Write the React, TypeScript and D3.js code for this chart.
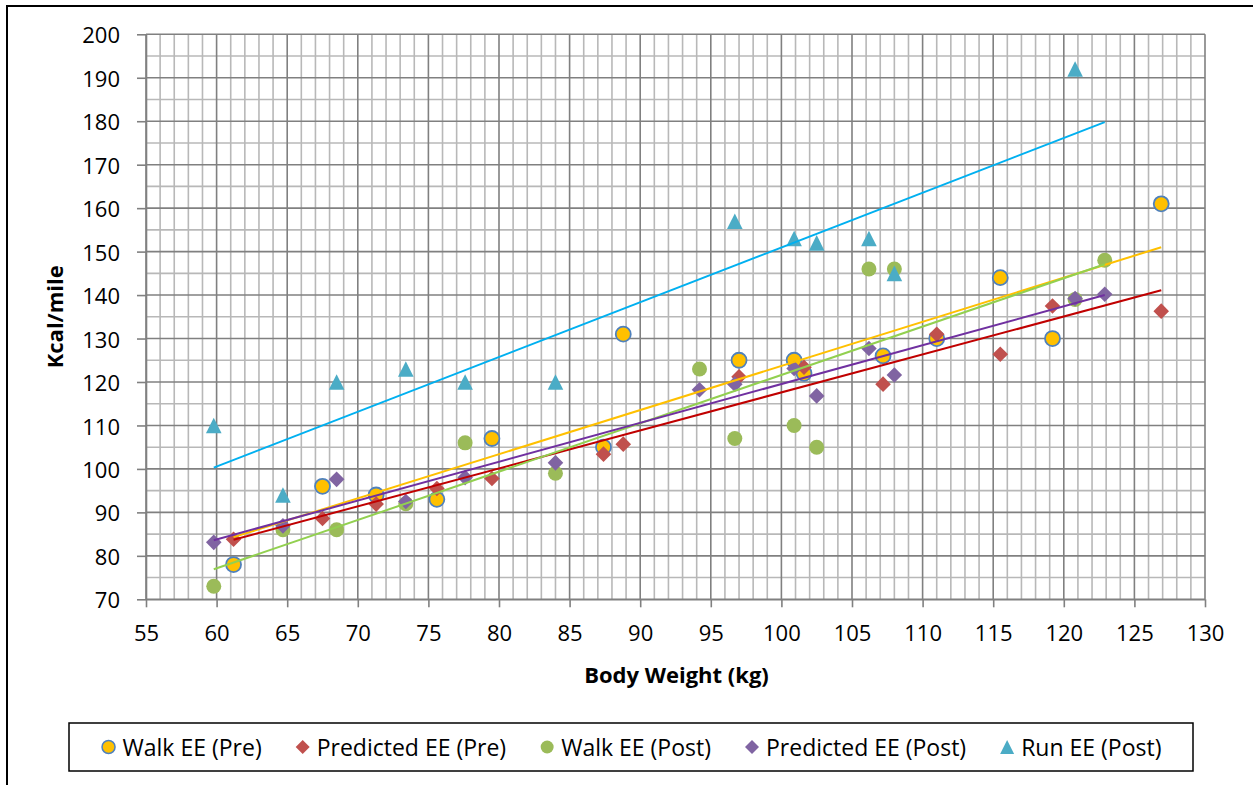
import React, { useEffect, useRef } from 'react';
import * as d3 from 'd3';

// body weight (kg) for the pre and post groups
const preWeight = [61.2, 67.5, 71.3, 75.6, 79.5, 87.4, 88.8, 97.0, 100.9, 101.6, 107.2, 111.0, 115.5, 119.2, 126.9];
const postWeight = [59.8, 64.7, 68.5, 73.4, 77.6, 84.0, 94.2, 96.7, 100.9, 102.5, 106.2, 108.0, 120.8, 122.9];

// Kcal/mile
const walkEEPre = [78, 96, 94, 93, 107, 105, 131, 125, 125, 122, 126, 130, 144, 130, 161];
const predictedEEPre = [83.8, 88.6, 91.9, 95.5, 97.8, 103.4, 105.7, 121.2, null, 123.4, 119.5, 131.0, 126.4, 137.5, 136.3];
const walkEEPost = [73, 86, 86, 92, 106, 99, 123, 107, 110, 105, 146, 146, 139, 148];
const predictedEEPost = [83.1, 86.9, 97.6, 92.5, 98.0, 101.4, 118.2, 119.5, 123.1, 116.8, 127.7, 121.6, 139.2, 140.2];
const runEEPost = [110, 94, 120, 123, 120, 120, null, 157, 153, 152, 153, 145, 192, null];

// linear trendlines: [x0, y0, x1, y1]
const trendWalkPre = [61.2, 84.3, 126.9, 151.0];
const trendPredPre = [61.2, 83.7, 126.9, 141.1];
const trendWalkPost = [59.8, 76.9, 122.9, 147.1];
const trendPredPost = [59.8, 83.6, 122.9, 140.0];
const trendRunPost = [59.8, 100.3, 122.9, 179.8];

const xTicks = d3.range(55, 131, 5);
const yTicks = d3.range(70, 201, 10);

const series = [
  { name: 'Walk EE (Pre)', xs: preWeight, ys: walkEEPre, shape: 'circle', fill: '#FFC000', stroke: '#4F81BD', trend: trendWalkPre, line: '#FFC000' },
  { name: 'Predicted EE (Pre)', xs: preWeight, ys: predictedEEPre, shape: 'diamond', fill: '#C0504D', stroke: 'none', trend: trendPredPre, line: '#C00000' },
  { name: 'Walk EE (Post)', xs: postWeight, ys: walkEEPost, shape: 'circle', fill: '#9BBB59', stroke: 'none', trend: trendWalkPost, line: '#92D050' },
  { name: 'Predicted EE (Post)', xs: postWeight, ys: predictedEEPost, shape: 'diamond', fill: '#8064A2', stroke: 'none', trend: trendPredPost, line: '#7030A0' },
  { name: 'Run EE (Post)', xs: postWeight, ys: runEEPost, shape: 'triangle', fill: '#4BACC6', stroke: 'none', trend: trendRunPost, line: '#00B0F0' },
];

const markerPath = (shape, s) => {
  if (shape === 'diamond') return `M0,${-s}L${s},0L0,${s}L${-s},0Z`;
  if (shape === 'triangle') return `M0,${-s}L${s},${s}L${-s},${s}Z`;
  return d3.arc()({ innerRadius: 0, outerRadius: s, startAngle: 0, endAngle: 2 * Math.PI });
};

const App = () => {
  const svgRef = useRef();

  useEffect(() => {
    const svg = d3.select(svgRef.current);
    svg.selectAll('*').remove();

    const font = "'Open Sans', sans-serif";
    const left = 146, right = 1205, top = 34.3, bottom = 599.3;

    const x = d3.scaleLinear().domain([55, 130]).range([left, right]);
    const y = d3.scaleLinear().domain([70, 200]).range([bottom, top]);

    // chart border (runs off the right/bottom of the picture)
    svg.append('rect')
      .attr('x', 7).attr('y', 6).attr('width', 1300).attr('height', 800)
      .attr('fill', 'white').attr('stroke', 'black').attr('stroke-width', 2);

    const grid = svg.append('g');
    // minor grid
    grid.selectAll('.vminor')
      .data(d3.range(56, 130, 1).filter(d => d % 5 !== 0))
      .enter().append('line')
      .attr('x1', d => x(d)).attr('x2', d => x(d))
      .attr('y1', top).attr('y2', bottom)
      .attr('stroke', '#B8B8B8').attr('stroke-width', 1.6);
    grid.selectAll('.hminor')
      .data(d3.range(75, 200, 10))
      .enter().append('line')
      .attr('x1', left).attr('x2', right)
      .attr('y1', d => y(d)).attr('y2', d => y(d))
      .attr('stroke', '#B8B8B8').attr('stroke-width', 1.6);
    // major grid
    grid.selectAll('.vmajor')
      .data(xTicks)
      .enter().append('line')
      .attr('x1', d => x(d)).attr('x2', d => x(d))
      .attr('y1', top).attr('y2', bottom)
      .attr('stroke', '#808080').attr('stroke-width', 1.6);
    grid.selectAll('.hmajor')
      .data(yTicks)
      .enter().append('line')
      .attr('x1', left).attr('x2', right)
      .attr('y1', d => y(d)).attr('y2', d => y(d))
      .attr('stroke', '#808080').attr('stroke-width', 1.6);

    const styleAxis = (g) => {
      g.select('.domain').attr('stroke', '#808080').attr('stroke-width', 1.6);
      g.selectAll('.tick line').attr('stroke', '#808080').attr('stroke-width', 1.6);
      g.selectAll('.tick text')
        .attr('fill', 'black')
        .style('font-family', font)
        .style('font-size', '22px');
    };

    svg.append('g')
      .attr('transform', `translate(${left},0)`)
      .call(d3.axisLeft(y).tickValues(yTicks).tickSize(9).tickSizeOuter(0).tickPadding(17))
      .call(styleAxis)
      .selectAll('.tick text').attr('dy', '0.39em');

    svg.append('g')
      .attr('transform', `translate(0,${bottom})`)
      .call(d3.axisBottom(x).tickValues(xTicks).tickSize(8).tickSizeOuter(0).tickPadding(18))
      .call(styleAxis);

    // axis titles
    svg.append('text')
      .attr('x', (left + right) / 2 + 1).attr('y', 683)
      .attr('text-anchor', 'middle')
      .style('font-family', font).style('font-size', '22px').style('font-weight', 'bold')
      .text('Body Weight (kg)');

    svg.append('text')
      .attr('transform', `translate(63,${(top + bottom) / 2}) rotate(-90)`)
      .attr('text-anchor', 'middle')
      .style('font-family', font).style('font-size', '22px').style('font-weight', 'bold')
      .text('Kcal/mile');

    // markers
    series.forEach(s => {
      const pts = s.xs.map((xv, i) => ({ x: xv, y: s.ys[i] })).filter(d => d.y != null);
      svg.append('g').selectAll('path')
        .data(pts)
        .enter().append('path')
        .attr('d', markerPath(s.shape, s.shape === 'circle' ? 7.5 : 7.8))
        .attr('transform', d => `translate(${x(d.x)},${y(d.y)})`)
        .attr('fill', s.fill)
        .attr('stroke', s.stroke)
        .attr('stroke-width', 1.8);
    });

    // trendlines
    series.forEach(s => {
      svg.append('line')
        .attr('x1', x(s.trend[0])).attr('y1', y(s.trend[1]))
        .attr('x2', x(s.trend[2])).attr('y2', y(s.trend[3]))
        .attr('stroke', s.line).attr('stroke-width', 2);
    });

    // legend
    const lgTop = 723, lgH = 48, lgLeft = 69, lgRight = 1193;
    svg.append('rect')
      .attr('x', lgLeft).attr('y', lgTop).attr('width', lgRight - lgLeft).attr('height', lgH)
      .attr('fill', 'white').attr('stroke', 'black').attr('stroke-width', 1.5);

    const lg = svg.append('g');
    const cy = lgTop + lgH / 2;
    let cursor = 0;
    series.forEach((s) => {
      const item = lg.append('g').attr('transform', `translate(${cursor},0)`);
      item.append('path')
        .attr('d', markerPath(s.shape, s.shape === 'circle' ? 6.5 : 7))
        .attr('transform', `translate(0,${cy})`)
        .attr('fill', s.fill).attr('stroke', s.stroke).attr('stroke-width', 1.5);
      const t = item.append('text')
        .attr('x', 14).attr('y', cy + 8.5)
        .style('font-family', font).style('font-size', '23px')
        .text(s.name);
      const w = t.node().getComputedTextLength();
      cursor += 14 + w + 41;
    });
    const total = cursor - 41;
    lg.attr('transform', `translate(${(lgLeft + lgRight) / 2 - total / 2 + 4},0)`);
  }, []);

  return (
    <svg
      ref={svgRef}
      width={1253}
      height={785}
      style={{ position: 'absolute', left: 0, top: 0, background: 'white' }}
    ></svg>
  );
};

export default App;
